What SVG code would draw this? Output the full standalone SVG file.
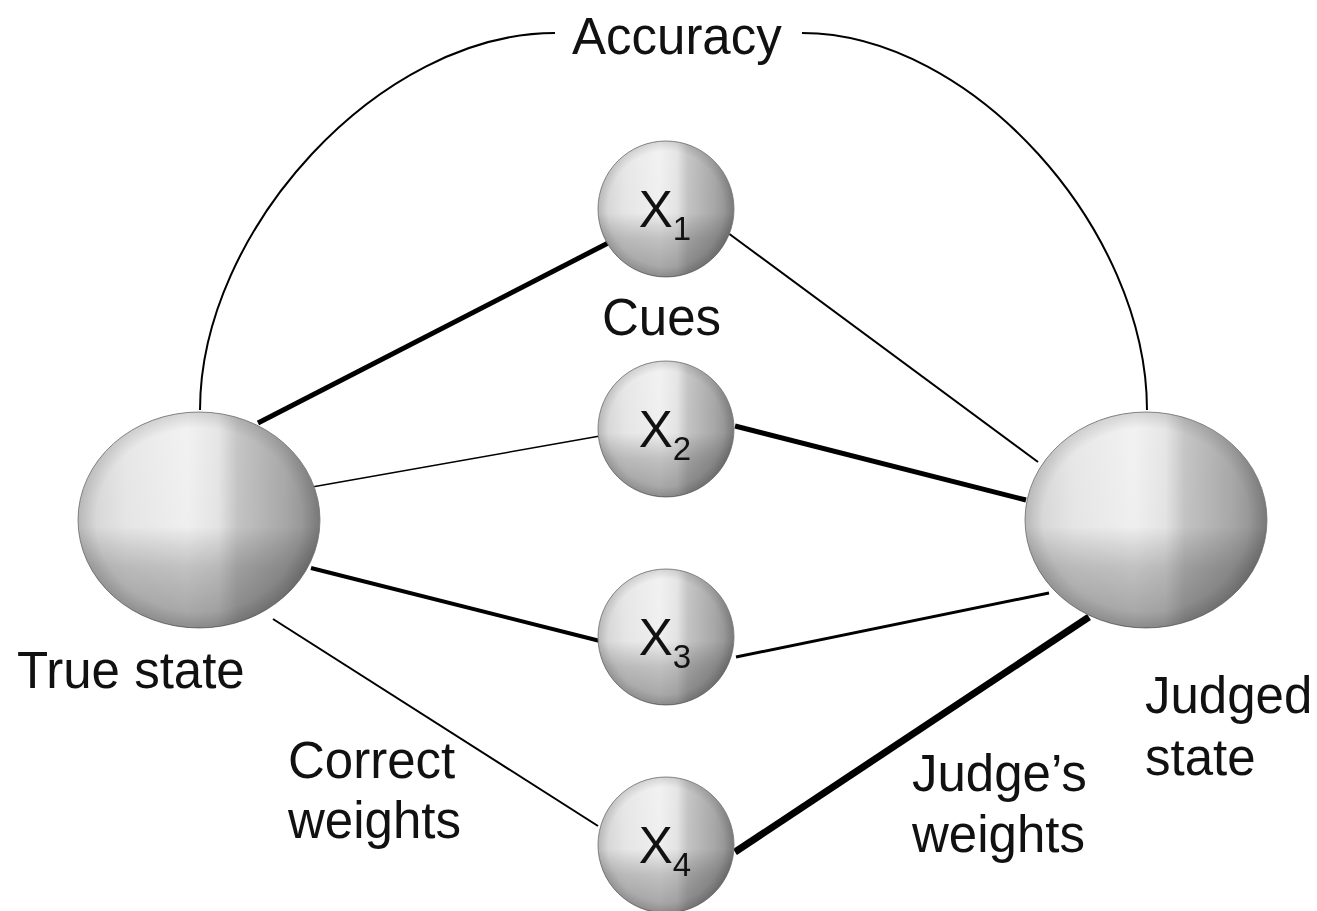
<svg xmlns="http://www.w3.org/2000/svg" width="1317" height="911" viewBox="0 0 1317 911">
<style>
text{font-family:"Liberation Sans",Arial,sans-serif;font-size:51px;fill:#111}
.base{fill:url(#hg);stroke:#8a8a8a;stroke-width:1}
.ov{fill:url(#vg);mix-blend-mode:multiply}
.edge{fill:url(#rg)}
.c{stroke:#000;fill:none;stroke-linecap:butt}
</style>
<defs>
<linearGradient id="hg" x1="0" y1="0" x2="1" y2="0">
<stop offset="0" stop-color="#d2d2d2"/>
<stop offset="0.2" stop-color="#e8e8e8"/>
<stop offset="0.45" stop-color="#f2f2f2"/>
<stop offset="0.58" stop-color="#e6e6e6"/>
<stop offset="0.66" stop-color="#c6c6c6"/>
<stop offset="0.85" stop-color="#aaaaaa"/>
<stop offset="1" stop-color="#8a8a8a"/>
</linearGradient>
<linearGradient id="vg" x1="0" y1="0" x2="0" y2="1">
<stop offset="0" stop-color="#ffffff"/>
<stop offset="0.53" stop-color="#fcfcfc"/>
<stop offset="0.62" stop-color="#e4e4e4"/>
<stop offset="0.72" stop-color="#cccccc"/>
<stop offset="1" stop-color="#a8a8a8"/>
</linearGradient>
<radialGradient id="rg" cx="0.5" cy="0.5" r="0.5">
<stop offset="0.85" stop-color="#000" stop-opacity="0"/>
<stop offset="1" stop-color="#000" stop-opacity="0.12"/>
</radialGradient>
</defs>

<g id="connectors">
<path class="c" stroke-width="2" d="M200,410 C200,230 380,33 555,33"/>
<path class="c" stroke-width="2" d="M802,33 C972,33 1147,230 1147,410"/>
<line class="c" stroke-width="5" x1="258" y1="423" x2="612" y2="241"/>
<line class="c" stroke-width="2" x1="724" y1="230" x2="1038" y2="462"/>
<line class="c" stroke-width="1.6" x1="312" y1="487" x2="600" y2="436"/>
<line class="c" stroke-width="5" x1="735" y1="426" x2="1026" y2="500"/>
<line class="c" stroke-width="4" x1="311" y1="568" x2="600" y2="641"/>
<line class="c" stroke-width="3" x1="736" y1="657" x2="1049" y2="593"/>
<line class="c" stroke-width="2" x1="273" y1="619" x2="598" y2="826"/>
<line class="c" stroke-width="7" x1="735" y1="852" x2="1089" y2="617"/>
</g>

<g id="true-state">
<ellipse class="base" cx="199" cy="520" rx="121" ry="108"/>
<ellipse class="ov" cx="199" cy="520" rx="121" ry="108"/>
<ellipse class="edge" cx="199" cy="520" rx="121" ry="108"/>
<text x="17" y="688">True state</text>
</g>

<g id="judged-state">
<ellipse class="base" cx="1146" cy="520" rx="121" ry="108"/>
<ellipse class="ov" cx="1146" cy="520" rx="121" ry="108"/>
<ellipse class="edge" cx="1146" cy="520" rx="121" ry="108"/>
<text x="1145" y="713">Judged</text>
<text x="1145" y="775">state</text>
</g>

<g id="x1">
<circle class="base" cx="666" cy="209" r="68"/>
<circle class="ov" cx="666" cy="209" r="68"/>
<circle class="edge" cx="666" cy="209" r="68"/>
<text x="665" y="227" text-anchor="middle">X<tspan font-size="33" dy="13">1</tspan></text>
</g>

<g id="x2">
<circle class="base" cx="666" cy="429" r="68"/>
<circle class="ov" cx="666" cy="429" r="68"/>
<circle class="edge" cx="666" cy="429" r="68"/>
<text x="665" y="447" text-anchor="middle">X<tspan font-size="33" dy="13">2</tspan></text>
</g>

<g id="x3">
<circle class="base" cx="666" cy="637" r="68"/>
<circle class="ov" cx="666" cy="637" r="68"/>
<circle class="edge" cx="666" cy="637" r="68"/>
<text x="665" y="655" text-anchor="middle">X<tspan font-size="33" dy="13">3</tspan></text>
</g>

<g id="x4">
<circle class="base" cx="666" cy="845" r="68"/>
<circle class="ov" cx="666" cy="845" r="68"/>
<circle class="edge" cx="666" cy="845" r="68"/>
<text x="665" y="863" text-anchor="middle">X<tspan font-size="33" dy="13">4</tspan></text>
</g>

<g id="labels">
<text x="572" y="54">Accuracy</text>
<text x="602" y="335">Cues</text>
<text x="288" y="778">Correct</text>
<text x="288" y="838">weights</text>
<text x="912" y="791">Judge’s</text>
<text x="912" y="852">weights</text>
</g>
</svg>
